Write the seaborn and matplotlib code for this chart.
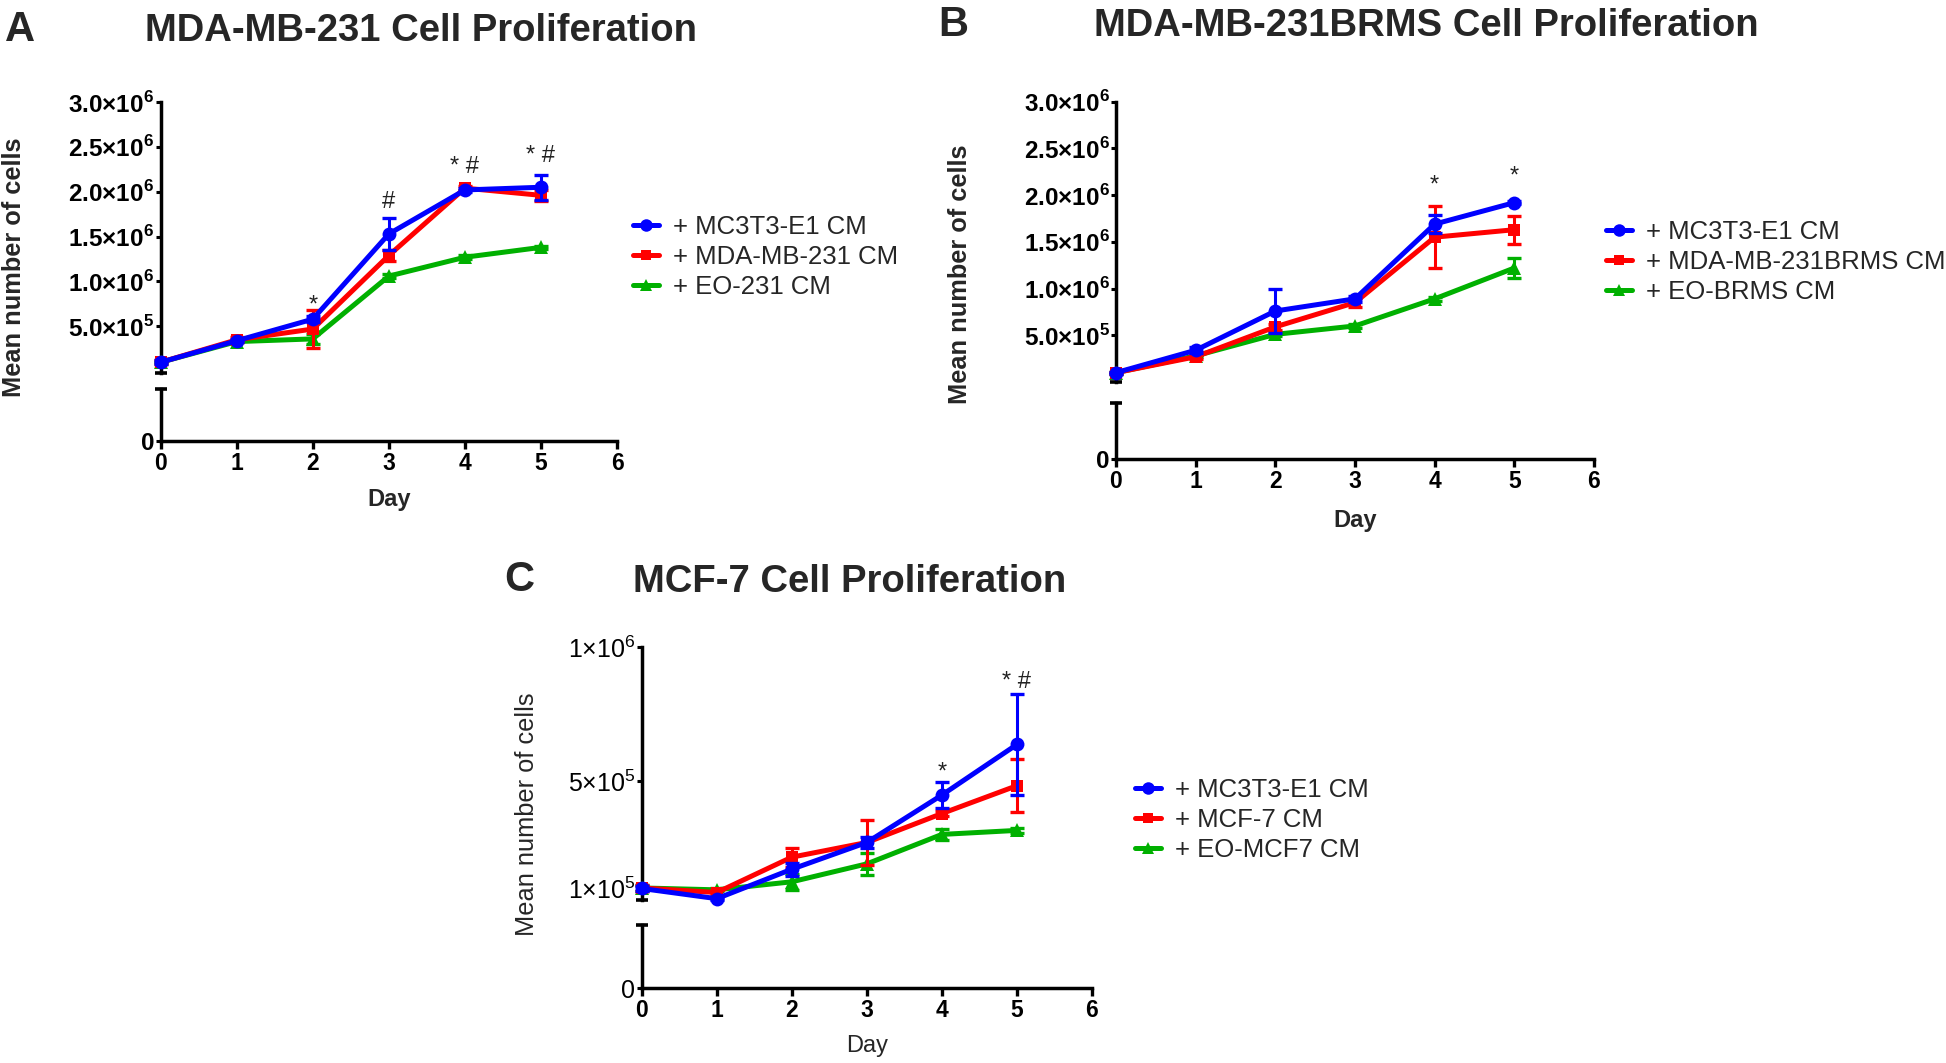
import matplotlib
matplotlib.use("Agg")
import matplotlib.pyplot as plt
import seaborn as sns
from matplotlib.lines import Line2D

# ---- data (cells) ----
days = [0, 1, 2, 3, 4, 5]

# A: MDA-MB-231
a_labels = ["+ MC3T3-E1 CM", "+ MDA-MB-231 CM", "+ EO-231 CM"]
a_mc3t3 = [0.10e6, 0.34e6, 0.58e6, 1.53e6, 2.02e6, 2.05e6]
a_mc3t3_err = [0.02e6, 0.02e6, 0.03e6, 0.18e6, 0.02e6, 0.14e6]
a_cm = [0.10e6, 0.35e6, 0.47e6, 1.29e6, 2.04e6, 1.96e6]
a_cm_err = [0.02e6, 0.03e6, 0.21e6, 0.06e6, 0.02e6, 0.06e6]
a_eo = [0.10e6, 0.33e6, 0.36e6, 1.06e6, 1.27e6, 1.38e6]
a_eo_err = [0.01e6, 0.01e6, 0.06e6, 0.02e6, 0.02e6, 0.02e6]
a_sig_days = [2, 3, 4, 5]
a_sig_text = ["*", "#", "* #", "* #"]
a_sig_y = [0.67e6, 1.82e6, 2.21e6, 2.33e6]

# B: MDA-MB-231BRMS
b_labels = ["+ MC3T3-E1 CM", "+ MDA-MB-231BRMS CM", "+ EO-BRMS CM"]
b_mc3t3 = [0.10e6, 0.34e6, 0.76e6, 0.89e6, 1.69e6, 1.92e6]
b_mc3t3_err = [0.01e6, 0.03e6, 0.24e6, 0.03e6, 0.10e6, 0.02e6]
b_cm = [0.10e6, 0.27e6, 0.59e6, 0.85e6, 1.55e6, 1.63e6]
b_cm_err = [0.01e6, 0.02e6, 0.03e6, 0.05e6, 0.33e6, 0.15e6]
b_eo = [0.10e6, 0.28e6, 0.51e6, 0.60e6, 0.89e6, 1.22e6]
b_eo_err = [0.01e6, 0.01e6, 0.02e6, 0.02e6, 0.02e6, 0.11e6]
b_sig_days = [4, 5]
b_sig_text = ["*", "*"]
b_sig_y = [2.04e6, 2.13e6]

# C: MCF-7
c_labels = ["+ MC3T3-E1 CM", "+ MCF-7 CM", "+ EO-MCF7 CM"]
c_mc3t3 = [0.098e6, 0.060e6, 0.17e6, 0.27e6, 0.447e6, 0.636e6]
c_mc3t3_err = [0.01e6, 0.005e6, 0.025e6, 0.02e6, 0.047e6, 0.19e6]
c_cm = [0.10e6, 0.083e6, 0.215e6, 0.27e6, 0.378e6, 0.482e6]
c_cm_err = [0.01e6, 0.01e6, 0.035e6, 0.085e6, 0.01e6, 0.10e6]
c_eo = [0.10e6, 0.093e6, 0.123e6, 0.19e6, 0.30e6, 0.315e6]
c_eo_err = [0.01e6, 0.005e6, 0.03e6, 0.04e6, 0.02e6, 0.01e6]
c_sig_days = [4, 5]
c_sig_text = ["*", "* #"]
c_sig_y = [0.507e6, 0.846e6]

ab_ticks = [0.5e6, 1.0e6, 1.5e6, 2.0e6, 2.5e6, 3.0e6]
ab_ticklabels = ["5.0×10$^{\\mathbf{5}}$", "1.0×10$^{\\mathbf{6}}$", "1.5×10$^{\\mathbf{6}}$",
                 "2.0×10$^{\\mathbf{6}}$", "2.5×10$^{\\mathbf{6}}$", "3.0×10$^{\\mathbf{6}}$"]
c_ticks = [0.1e6, 0.5e6, 1.0e6]
c_ticklabels = ["1×10$^{5}$", "5×10$^{5}$", "1×10$^{6}$"]

colors = ["#0000ff", "#ff0000", "#00b000"]
markers = ["o", "s", "^"]
msizes = [10, 8.5, 10]

sns.set_theme(style="white")
plt.rcParams["font.family"] = ["Liberation Sans", "DejaVu Sans"]
plt.rcParams["mathtext.fontset"] = "custom"
plt.rcParams["mathtext.rm"] = "Liberation Sans"
plt.rcParams["mathtext.bf"] = "Liberation Sans:bold"

W, H = 1946, 1063
fig = plt.figure(figsize=(W / 100, H / 100), dpi=100)


def rect(x0, x1, ytop, ybot):
    return [x0 / W, 1 - ybot / H, (x1 - x0) / W, (ybot - ytop) / H]


def style_axis(ax, spine_w=2.5):
    for s in ["top", "right"]:
        ax.spines[s].set_visible(False)
    for s in ["left", "bottom"]:
        ax.spines[s].set_linewidth(spine_w)
        ax.spines[s].set_color("black")


def panel(x0, x1, up, low, ylim, yticks, yticklabels, series, errs,
          sig_days, sig_text, sig_y, bold_y, ysize):
    yw = "bold" if bold_y else "normal"
    ax = fig.add_axes(rect(x0, x1, up[0], up[1]))
    axl = fig.add_axes(rect(x0, x1, low[0], low[1]))
    style_axis(ax)
    style_axis(axl)
    ax.spines["bottom"].set_visible(False)

    # green first so blue ends on top
    for i in [2, 1, 0]:
        sns.lineplot(x=days, y=series[i], color=colors[i], marker=markers[i],
                     markersize=msizes[i], markeredgewidth=0, linewidth=3.6,
                     ax=ax, clip_on=False, zorder=3 + (2 - i))
        ax.errorbar(days, series[i], yerr=errs[i], fmt="none", ecolor=colors[i],
                    elinewidth=2.2, capsize=5, capthick=2.4, clip_on=False,
                    zorder=3 + (2 - i))

    ax.set_xlim(0, 6)
    ax.set_ylim(*ylim)
    ax.set_xticks([])
    ax.set_yticks(yticks)
    ax.set_yticklabels(yticklabels, fontsize=ysize, fontweight=yw)
    ax.tick_params(axis="y", direction="out", length=3.5, width=2.2, pad=1,
                   left=True, colors="black")
    ax.plot([0], [0], marker="_", markersize=9, mew=2.6, color="black",
            transform=ax.transAxes, clip_on=False)

    for d, t, y in zip(sig_days, sig_text, sig_y):
        ax.text(d, y, t, ha="center", va="baseline", fontsize=17, color="#222222")

    axl.set_xlim(0, 6)
    axl.set_ylim(0, 1)
    axl.set_xticks(range(0, 7))
    axl.set_xticklabels([str(v) for v in range(0, 7)], fontsize=16.5, fontweight="bold")
    axl.set_yticks([0])
    axl.set_yticklabels(["0"], fontsize=ysize, fontweight=yw)
    axl.tick_params(axis="x", direction="out", length=6, width=2.4, pad=2,
                    bottom=True, colors="black")
    axl.tick_params(axis="y", direction="out", length=3.5, width=2.2, pad=1,
                    left=True, colors="black")
    axl.plot([0], [1], marker="_", markersize=9, mew=2.6, color="black",
             transform=axl.transAxes, clip_on=False)

    handles = [Line2D([], [], color=colors[i], marker=markers[i], lw=3.6,
                      ms=msizes[i] * 0.9, mew=0) for i in range(3)]
    return ax, handles


ax_a, h_a = panel(160.7, 617, (102, 373), (389, 440.7), (-0.02e6, 3.0e6),
                  ab_ticks, ab_ticklabels,
                  [a_mc3t3, a_cm, a_eo], [a_mc3t3_err, a_cm_err, a_eo_err],
                  a_sig_days, a_sig_text, a_sig_y, True, 17.5)
ax_b, h_b = panel(1116, 1594, (101.7, 382), (403.4, 458.6), (0.0, 3.0e6),
                  ab_ticks, ab_ticklabels,
                  [b_mc3t3, b_cm, b_eo], [b_mc3t3_err, b_cm_err, b_eo_err],
                  b_sig_days, b_sig_text, b_sig_y, True, 17.5)
ax_c, h_c = panel(641.7, 1092, (647, 900), (925, 988), (0.055e6, 1.0e6),
                  c_ticks, c_ticklabels,
                  [c_mc3t3, c_cm, c_eo], [c_mc3t3_err, c_cm_err, c_eo_err],
                  c_sig_days, c_sig_text, c_sig_y, False, 18)

# legends
for handles, labels, (lx, ly) in [(h_a, a_labels, (633, 257)),
                                  (h_b, b_labels, (1606, 262)),
                                  (h_c, c_labels, (1135, 820))]:
    fig.legend(handles, labels, loc="center left", bbox_to_anchor=(lx / W, 1 - ly / H),
               frameon=False, fontsize=18.5, handlelength=1.0, handletextpad=0.55,
               labelspacing=0.25, borderpad=0, borderaxespad=0)

# panel letters and titles
for letter, x, y in [("A", 20, 30), ("B", 953, 25), ("C", 519, 580)]:
    fig.text(x / W, 1 - y / H, letter, fontsize=30, fontweight="bold",
             ha="center", va="center")
for title, x, y in [("MDA-MB-231 Cell Proliferation", 421, 31),
                    ("MDA-MB-231BRMS Cell Proliferation", 1426, 26),
                    ("MCF-7 Cell Proliferation", 850, 582)]:
    fig.text(x / W, 1 - y / H, title, fontsize=27.5, fontweight="bold",
             ha="center", va="center")

# axis labels
for x, y, w in [(14, 267, "bold"), (960, 274, "bold"), (527, 814, "normal")]:
    fig.text(x / W, 1 - y / H, "Mean number of cells", rotation=90, fontsize=18.3,
             fontweight=w, ha="center", va="center")
for x, y, w in [(389, 499, "bold"), (1355, 520, "bold"), (867, 1046, "normal")]:
    fig.text(x / W, 1 - y / H, "Day", fontsize=17, fontweight=w,
             ha="center", va="center")

plt.savefig("out.png", dpi=100)
